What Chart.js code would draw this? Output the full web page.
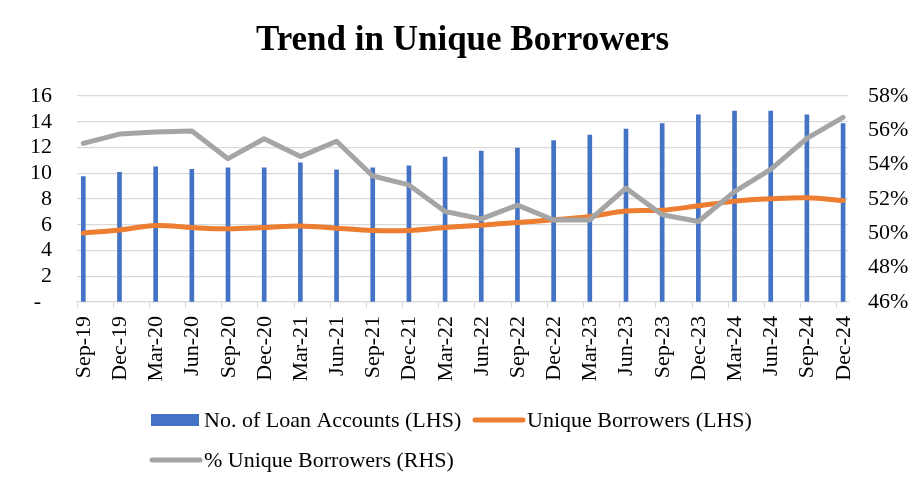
<!DOCTYPE html>
<html>
<head>
<meta charset="utf-8">
<title>Trend in Unique Borrowers</title>
<script src="https://cdn.jsdelivr.net/npm/chart.js@4.4.1/dist/chart.umd.min.js"></script>
<style>
  html, body { margin: 0; padding: 0; background: #fff; }
  #wrap { width: 914px; height: 487px; }
</style>
</head>
<body>
<div id="wrap"><canvas id="borrowersChart" width="914" height="487"></canvas></div>
<script>
const quarters = ['Sep-19', 'Dec-19', 'Mar-20', 'Jun-20', 'Sep-20', 'Dec-20', 'Mar-21', 'Jun-21',
  'Sep-21', 'Dec-21', 'Mar-22', 'Jun-22', 'Sep-22', 'Dec-22', 'Mar-23', 'Jun-23',
  'Sep-23', 'Dec-23', 'Mar-24', 'Jun-24', 'Sep-24', 'Dec-24'];

// LHS
const loanAccounts = [9.74, 10.08, 10.49, 10.31, 10.43, 10.43, 10.80, 10.26,
  10.43, 10.57, 11.26, 11.73, 11.96, 12.53, 12.97, 13.43,
  13.85, 14.54, 14.83, 14.83, 14.54, 13.85];
const uniqueBorrowers = [5.35, 5.60, 5.94, 5.78, 5.68, 5.78, 5.91, 5.73,
  5.55, 5.55, 5.78, 5.97, 6.17, 6.38, 6.64, 7.06,
  7.13, 7.47, 7.83, 8.01, 8.09, 7.88];

// RHS (%)
const pctUnique = [55.24, 55.78, 55.90, 55.96, 54.35, 55.51, 54.47, 55.36,
  53.34, 52.82, 51.27, 50.84, 51.64, 50.78, 50.78, 52.63,
  51.08, 50.69, 52.43, 53.73, 55.53, 56.76];

const xMin = -0.174, xMax = 21.136;
const toPoints = arr => arr.map((v, i) => ({ x: i, y: v }));

Chart.defaults.font.family = '"Liberation Serif", "Times New Roman", serif';
Chart.defaults.font.size = 22;
Chart.defaults.color = '#000';

// legend drawn by hand: second row is left aligned, not centred
const bottomLegend = {
  id: 'bottomLegend',
  afterDraw(chart) {
    const ctx = chart.ctx;
    const ds = chart.data.datasets;
    const items = [
      { d: ds[0], x: 151, y: 420 },
      { d: ds[1], x: 474, y: 420 },
      { d: ds[2], x: 151, y: 460 }
    ];
    ctx.save();
    ctx.font = '22px "Liberation Serif"';
    ctx.textBaseline = 'alphabetic';
    items.forEach(it => {
      if (it.d.type === 'bar') {
        ctx.fillStyle = it.d.backgroundColor;
        ctx.fillRect(it.x, it.y - 6, 48, 12);
      } else {
        ctx.strokeStyle = it.d.borderColor;
        ctx.lineWidth = 5;
        ctx.lineCap = 'round';
        ctx.beginPath();
        ctx.moveTo(it.x + 1, it.y);
        ctx.lineTo(it.x + 49, it.y);
        ctx.stroke();
      }
      ctx.fillStyle = '#000';
      ctx.fillText(it.d.label, it.x + 53, it.y + 7);
    });
    ctx.restore();
  }
};

new Chart(document.getElementById('borrowersChart'), {
  type: 'bar',
  data: {
    datasets: [{
      type: 'bar',
      label: 'No. of Loan Accounts (LHS)',
      data: toPoints(loanAccounts),
      backgroundColor: '#4472C4',
      barThickness: 4,
      yAxisID: 'y',
      order: 3
    }, {
      type: 'line',
      label: 'Unique Borrowers (LHS)',
      data: toPoints(uniqueBorrowers),
      borderColor: '#ED7D31',
      borderWidth: 5,
      tension: 0.35,
      pointRadius: 0,
      borderCapStyle: 'round',
      borderJoinStyle: 'round',
      yAxisID: 'y',
      order: 2
    }, {
      type: 'line',
      label: '% Unique Borrowers (RHS)',
      data: toPoints(pctUnique),
      borderColor: '#A5A5A5',
      borderWidth: 5,
      tension: 0,
      pointRadius: 0,
      borderCapStyle: 'round',
      borderJoinStyle: 'round',
      yAxisID: 'y1',
      order: 1
    }]
  },
  options: {
    responsive: false,
    animation: false,
    layout: { padding: 0 },
    plugins: {
      legend: { display: false },
      tooltip: { enabled: false },
      title: {
        display: true,
        text: 'Trend in Unique Borrowers',
        fullSize: false,
        color: '#000',
        font: { size: 35, weight: 'bold', lineHeight: 1.2 },
        padding: { top: 20, bottom: 34 }
      }
    },
    scales: {
      x: {
        type: 'linear',
        offset: false,
        min: xMin,
        max: xMax,
        afterBuildTicks: s => { s.ticks = quarters.map((q, i) => ({ value: i + xMin })); },
        afterFit: s => { s.height = 185; },
        grid: { drawOnChartArea: false, tickLength: 6, color: '#d9d9d9', offset: false },
        border: { color: '#d9d9d9', width: 1.3 },
        ticks: {
          autoSkip: false,
          minRotation: 90,
          maxRotation: 90,
          labelOffset: 7,
          padding: 8,
          callback: (v, i) => quarters[i]
        }
      },
      y: {
        position: 'left',
        min: 0,
        max: 16,
        afterFit: s => { s.width = 77; },
        grid: { color: '#d9d9d9', lineWidth: 1.3, drawTicks: false },
        border: { display: false },
        ticks: { stepSize: 2, autoSkip: false, padding: 25, callback: v => v === 0 ? '-  ' : v }
      },
      y1: {
        position: 'right',
        min: 46,
        max: 58,
        afterFit: s => { s.width = 66; },
        grid: { display: false, drawTicks: false },
        border: { display: false },
        ticks: { stepSize: 2, autoSkip: false, padding: 20, callback: v => v + '%' }
      }
    }
  },
  plugins: [bottomLegend]
});
</script>
</body>
</html>
